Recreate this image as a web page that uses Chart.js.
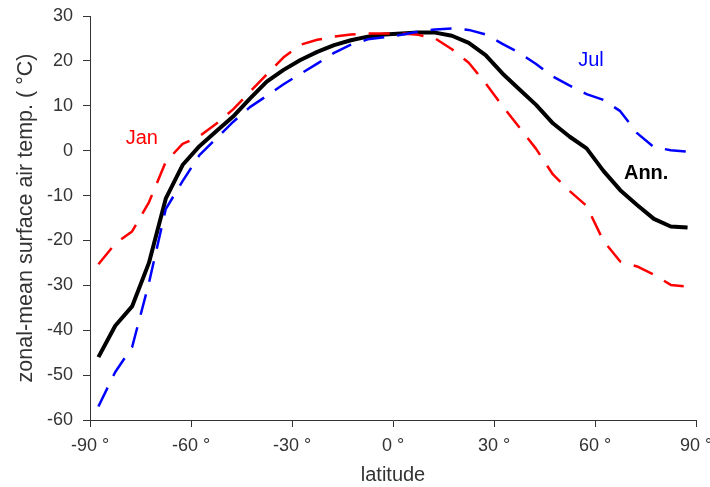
<!DOCTYPE html>
<html>
<head>
<meta charset="utf-8">
<script src="https://cdn.jsdelivr.net/npm/chart.js@4"></script>
<style>
  html, body { margin: 0; padding: 0; background: #fff; }
  #wrap { width: 710px; height: 487px; }
</style>
</head>
<body>
<div id="wrap"><canvas id="grafico"></canvas></div>
<script>
const latitude = [-87.5,-82.5,-77.5,-72.5,-67.5,-62.5,-57.5,-52.5,-47.5,-42.5,-37.5,-32.5,-27.5,-22.5,-17.5,-12.5,-7.5,-2.5,
                  2.5,7.5,12.5,17.5,22.5,27.5,32.5,37.5,42.5,47.5,52.5,57.5,62.5,67.5,72.5,77.5,82.5,87.5]
const annual = [-46,-39,-34.7,-25,-10.7,-3.2,1,4.3,7.6,11.6,15.4,18,20.2,22,23.5,24.6,25.4,25.9,
                26.1,26.3,26.3,25.6,24,21.3,17.2,13.7,10.2,6.1,3.1,0.5,-4.5,-8.8,-12.1,-15.2,-16.9,-17.1]
const january = [-25.3,-20.7,-18,-11.5,-2.5,1.5,3.2,6,9.2,13.1,17,20.8,23.6,24.7,25.4,25.9,26.1,26.1,
                 26.1,25.8,25,22.6,19.6,15,10,5.2,0.4,-5.3,-9,-12.3,-20.1,-24.7,-25.8,-27.6,-29.9,-30.3]
const july = [-57,-49.3,-43.8,-29.5,-13,-6.8,-1,2.7,6.4,9.7,12.2,14.8,17.1,19.4,21.8,23.6,24.8,25.3,
              25.8,26.5,27,27.2,26.9,25.9,23.8,21.8,19.3,16.5,14.5,12.6,11.3,8.8,3.9,0.8,0.1,-0.2]
const xTicks = [-90,-60,-30,0,30,60,90]
const yTicks = [-60,-50,-40,-30,-20,-10,0,10,20,30]

// series labels drawn inside the plot (text, lat, temp)
const rotulos = [
  { text: "Jan",  lat: -74.6, temp: 2.8,  color: "#ff0000", weight: "normal" },
  { text: "Jul",  lat: 58.8,  temp: 20.2, color: "#0000ff", weight: "normal" },
  { text: "Ann.", lat: 75.2,  temp: -5,   color: "#000000", weight: "bold" }
]

function pontos(values) {
  return latitude.map((lat, i) => ({ x: lat, y: values[i] }))
}

const rotulosPlugin = {
  id: "rotulos",
  afterDatasetsDraw(chart) {
    const ctx = chart.ctx
    const { x, y } = chart.scales
    ctx.save()
    ctx.textAlign = "center"
    ctx.textBaseline = "middle"
    rotulos.forEach((r) => {
      ctx.font = `${r.weight} 20px "Liberation Sans", Arial, sans-serif`
      ctx.fillStyle = r.color
      ctx.fillText(r.text, x.getPixelForValue(r.lat), y.getPixelForValue(r.temp))
    })
    ctx.restore()
  }
}

const fonte = { family: '"Liberation Sans", Arial, sans-serif', size: 18 }
const cinza = "#333333"

new Chart(document.getElementById("grafico"), {
  type: "line",
  data: {
    datasets: [
      { label: "Jul", data: pontos(july), borderColor: "#0000ff", borderWidth: 2.5, borderDash: [21, 13] },
      { label: "Jan", data: pontos(january), borderColor: "#ff0000", borderWidth: 2.5, borderDash: [21, 13] },
      { label: "Ann.", data: pontos(annual), borderColor: "#000000", borderWidth: 4 }
    ]
  },
  options: {
    responsive: true,
    maintainAspectRatio: false,
    animation: false,
    elements: { point: { radius: 0 }, line: { tension: 0, borderCapStyle: "butt", borderJoinStyle: "round" } },
    layout: { padding: { left: 0, right: 14, top: 16, bottom: 0 } },
    plugins: { legend: { display: false }, tooltip: { enabled: false } },
    scales: {
      x: {
        type: "linear",
        min: -90,
        max: 90,
        afterBuildTicks: (scale) => { scale.ticks = xTicks.map((v) => ({ value: v })) },
        afterFit: (scale) => { scale.height = 67; scale.paddingLeft = 0; scale.paddingRight = 0 },
        ticks: { font: fonte, color: cinza, padding: 8, maxRotation: 0, autoSkip: false,
                 callback: (v) => `${v} °` },
        grid: { drawOnChartArea: false, drawTicks: true, tickLength: 7, color: cinza, lineWidth: 1 },
        border: { display: true, color: cinza, width: 1 },
        title: { display: true, text: "latitude", color: cinza, padding: { top: 0, bottom: 0 },
                 font: { family: fonte.family, size: 20, lineHeight: 1.2 } }
      },
      y: {
        type: "linear",
        min: -60,
        max: 30,
        afterBuildTicks: (scale) => { scale.ticks = yTicks.map((v) => ({ value: v })) },
        afterFit: (scale) => { scale.width = 90; scale.paddingTop = 0; scale.paddingBottom = 0 },
        ticks: { font: fonte, color: cinza, padding: 10, autoSkip: false },
        grid: { drawOnChartArea: false, drawTicks: true, tickLength: 7, color: cinza, lineWidth: 1 },
        border: { display: true, color: cinza, width: 1 },
        title: { display: true, text: "zonal-mean surface air temp. ( °C)", color: cinza,
                 padding: { top: 13, bottom: 0 },
                 font: { family: fonte.family, size: 21.5, lineHeight: 1.2 } }
      }
    }
  },
  plugins: [rotulosPlugin]
})
</script>
</body>
</html>
